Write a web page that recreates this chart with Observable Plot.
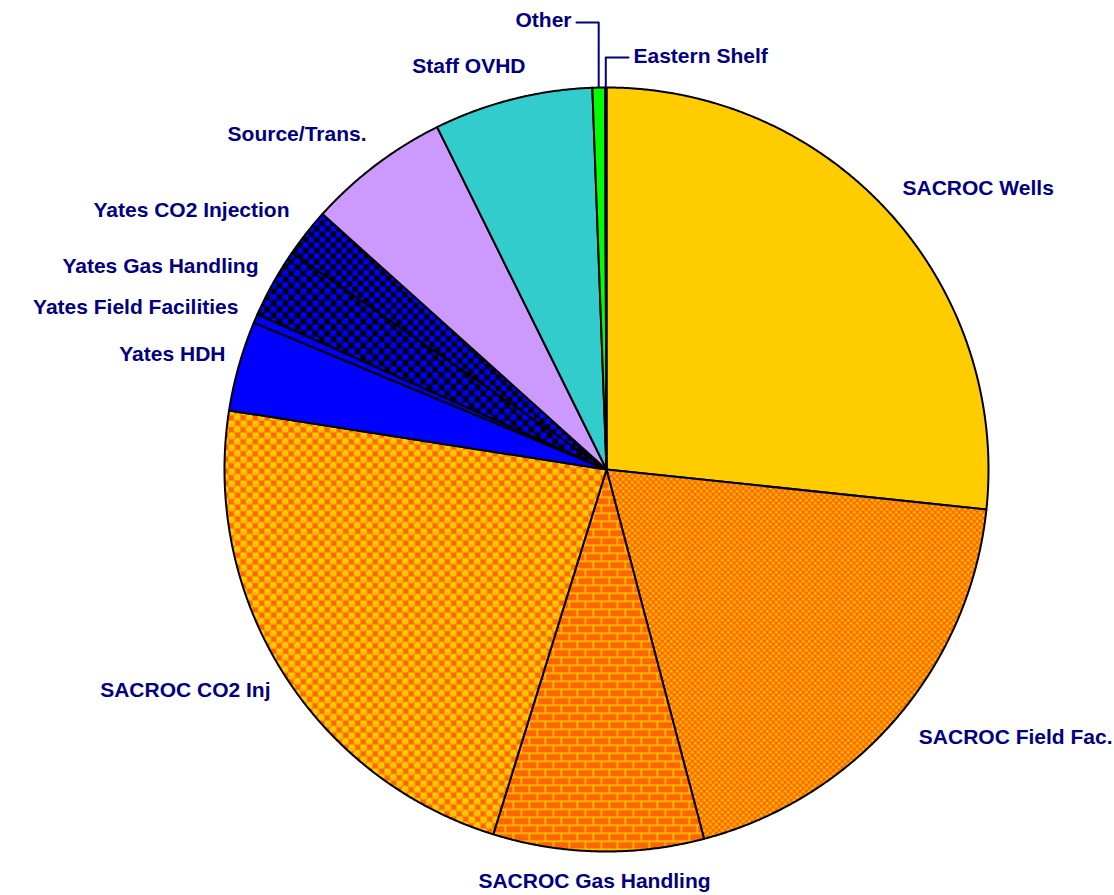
<!DOCTYPE html>
<html>
<head>
<meta charset="utf-8">
<script src="https://cdn.jsdelivr.net/npm/d3@7"></script>
<script src="https://cdn.jsdelivr.net/npm/@observablehq/plot@0.6"></script>
<style>
  html, body { margin: 0; padding: 0; background: #ffffff; }
  #chart { width: 1114px; height: 895px; overflow: hidden; }
</style>
</head>
<body>
<div id="chart"></div>
<script>
// ---- Data (percent of total, clockwise from 12 o'clock) ----
const categories = [
  "SACROC Wells", "SACROC Field Fac.", "SACROC Gas Handling", "SACROC CO2 Inj",
  "Yates HDH", "Yates Field Facilities", "Yates Gas Handling", "Yates CO2 Injection",
  "Source/Trans.", "Staff OVHD", "Other", "Eastern Shelf"
];
const values = [26.67, 19.22, 8.90, 22.68, 3.81, 0.38, 2.94, 2.06, 6.03, 6.72, 0.53, 0.06];

// ---- Styles ----
const fills = [
  "#FFCC00", "url(#pFieldFac)", "url(#pBrick)", "url(#pSphereOrange)",
  "#0000FF", "url(#pYatesFF)", "url(#pSphereBlue)", "url(#pChecker)",
  "#CC99FF", "#33CCCC", "#00FF00", "#FF0000"
];

// ---- Label layout (in pie-radius units relative to the centre) ----
const labelLayout = [
  {u: 0.7749, v: -0.7356, anchor: "start"},
  {u: 1.3246, v: 0.7016, anchor: "end"},
  {u: -0.0314, v: 1.0785, anchor: "middle"},
  {u: -0.8796, v: 0.5785, anchor: "end"},
  {u: -0.9974, v: -0.3010, anchor: "end"},
  {u: -0.9634, v: -0.4241, anchor: "end"},
  {u: -0.9110, v: -0.5314, anchor: "end"},
  {u: -0.8298, v: -0.6780, anchor: "end"},
  {u: -0.6283, v: -0.8770, anchor: "end"},
  {u: -0.2120, v: -1.0550, anchor: "end"},
  {u: -0.0916, v: -1.1754, anchor: "end"},
  {u: 0.0707, v: -1.0812, anchor: "start"}
];
// leader lines: label index, start point of horizontal run
const leaderLayout = [
  {i: 10, u: -0.0785, v: -1.1702},
  {i: 11, u: 0.0576, v: -1.0785}
];

// ---- Geometry from the data ----
const arcs = d3.pie().sort(null).value(d => d)(values);
const pt = a => [Math.sin(a), -Math.cos(a)];
const slices = arcs.map((a, i) => {
  const ring = [[0, 0]];
  const n = Math.max(2, Math.ceil((a.endAngle - a.startAngle) / (Math.PI / 720)));
  for (let k = 0; k <= n; k++) ring.push(pt(a.startAngle + (a.endAngle - a.startAngle) * k / n));
  ring.push([0, 0]);
  return {type: "Feature", properties: {name: categories[i], fill: fills[i]},
          geometry: {type: "Polygon", coordinates: [ring]}};
});
const leaders = leaderLayout.map(l => {
  const a = arcs[l.i];
  const [ex, ey] = pt((a.startAngle + a.endAngle) / 2);
  return {type: "Feature", properties: {}, geometry: {type: "LineString",
    coordinates: [[l.u, l.v], [ex, l.v], [ex, ey]]}};
});
const labels = categories.map((name, i) => ({name, ...labelLayout[i]}));
const domain = {type: "MultiPoint", coordinates: [[-1, -1], [1, 1]]};

const textStyle = {
  x: "u", y: "v", text: "name",
  fill: "#000080", fontWeight: "bold", fontSize: 21,
  fontFamily: "'Liberation Sans', Arial, Helvetica, sans-serif",
  lineAnchor: "middle"
};

const svg = Plot.plot({
  width: 1114, height: 895,
  marginLeft: 224, marginRight: 126, marginTop: 87, marginBottom: 44,
  projection: {type: "identity", domain, inset: 0, clip: false},
  color: {type: "identity"},
  marks: [
    Plot.geo(slices, {fill: d => d.properties.fill, stroke: "#000000", strokeWidth: 2, strokeLinejoin: "round"}),
    Plot.geo(leaders, {stroke: "#000080", strokeWidth: 2, fill: "none"}),
    Plot.text(labels.filter(d => d.anchor === "start"), {...textStyle, textAnchor: "start"}),
    Plot.text(labels.filter(d => d.anchor === "end"), {...textStyle, textAnchor: "end"}),
    Plot.text(labels.filter(d => d.anchor === "middle"), {...textStyle, textAnchor: "middle"})
  ]
});

const defs = document.createElementNS("http://www.w3.org/2000/svg", "defs");
defs.innerHTML = `
<pattern id="pFieldFac" width="6" height="6" patternUnits="userSpaceOnUse">
  <rect width="6" height="6" fill="#FF6600"/>
  <rect x="0.5" y="0.5" width="2.5" height="2.5" fill="#FFCC00"/>
  <rect x="3.5" y="3.5" width="2.5" height="2.5" fill="#FFCC00"/>
</pattern>
<pattern id="pBrick" width="16" height="16" patternUnits="userSpaceOnUse">
  <rect width="16" height="16" fill="#FFCC00"/>
  <rect x="1.5" y="1.5" width="14.5" height="6.5" fill="#FF6600"/>
  <rect x="0" y="9.5" width="8" height="6.5" fill="#FF6600"/>
  <rect x="9.5" y="9.5" width="6.5" height="6.5" fill="#FF6600"/>
</pattern>
<pattern id="pSphereOrange" width="12" height="12" patternUnits="userSpaceOnUse">
  <rect width="12" height="12" fill="#FF6600"/>
  <circle cx="3" cy="3" r="3.7" fill="#FFCC00"/>
  <circle cx="9" cy="9" r="3.7" fill="#FFCC00"/>
  <path d="M1.3 4 Q3 5.6 4.7 4" stroke="#FF9900" stroke-width="0.9" fill="none"/>
  <path d="M7.3 10 Q9 11.6 10.7 10" stroke="#FF9900" stroke-width="0.9" fill="none"/>
</pattern>
<pattern id="pSphereBlue" width="12" height="12" patternUnits="userSpaceOnUse">
  <rect width="12" height="12" fill="#000000"/>
  <circle cx="3" cy="3" r="3.6" fill="#0000FF"/>
  <circle cx="9" cy="9" r="3.6" fill="#0000FF"/>
  <path d="M1.3 4 Q3 5.6 4.7 4" stroke="#000066" stroke-width="0.9" fill="none"/>
  <path d="M7.3 10 Q9 11.6 10.7 10" stroke="#000066" stroke-width="0.9" fill="none"/>
</pattern>
<pattern id="pChecker" width="11" height="11" patternUnits="userSpaceOnUse">
  <rect width="11" height="11" fill="#0000FF"/>
  <rect width="5.5" height="5.5" fill="#000000"/>
  <rect x="5.5" y="5.5" width="5.5" height="5.5" fill="#000000"/>
</pattern>
<pattern id="pYatesFF" width="6" height="6" patternUnits="userSpaceOnUse">
  <rect width="6" height="6" fill="#0000FF"/>
  <rect x="0" y="0" width="3" height="1" fill="#000080"/>
</pattern>`;
svg.insertBefore(defs, svg.firstChild);
document.getElementById("chart").appendChild(svg);
</script>
</body>
</html>
